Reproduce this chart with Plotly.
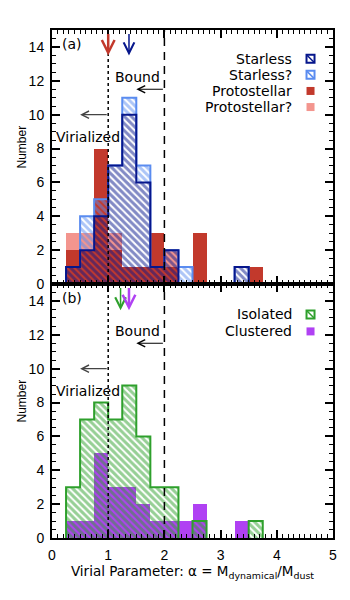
import plotly.graph_objects as go
from plotly.subplots import make_subplots

# ---------------- data ----------------
bin_width = 0.25
bin_lefts = [0.25, 0.5, 0.75, 1.0, 1.25, 1.5, 1.75, 2.0, 2.25, 2.5, 2.75, 3.0, 3.25, 3.5]
starless = [1, 2, 4, 7, 10, 6, 1, 2, 0, 0, 0, 0, 1, 0]
starless_q = [0, 2, 1, 0, 1, 1, 0, 0, 1, 0, 0, 0, 0, 0]
protostellar = [2, 2, 8, 2, 1, 1, 3, 1, 0, 3, 0, 0, 0, 1]
protostellar_q = [1, 1, 0, 1, 0, 0, 0, 1, 0, 0, 0, 0, 0, 0]
isolated = [3, 7, 8, 7, 9, 6, 3, 3, 0, 1, 0, 0, 0, 1]
clustered = [1, 1, 5, 3, 3, 2, 1, 1, 1, 2, 0, 0, 1, 0]

median_top = {"Protostellar": 1.0, "Starless": 1.37}
median_bot = {"Isolated": 1.22, "Clustered": 1.37}

x_ticks = [0, 1, 2, 3, 4, 5]
y_ticks = [0, 2, 4, 6, 8, 10, 12, 14]
alpha_vir = 1.0
alpha_bound = 2.0

NAVY = "#06168c"
LBLUE = "#5a8cf0"
RED = "#c2392c"
PINK = "#f3958e"
GREEN = "#2ea02c"
PURPLE = "#b041f3"
FONT = "DejaVu Sans"
TFONT = "Liberation Sans"

centers = [l + bin_width / 2 for l in bin_lefts]


def step_outline(counts):
    xs, ys = [], []
    in_run = False
    prev_r = None
    for l, c in zip(bin_lefts, counts):
        r = l + bin_width
        if c > 0:
            if not in_run:
                xs.append(l); ys.append(0)
                in_run = True
            xs += [l, r]; ys += [c, c]
            prev_r = r
        else:
            if in_run:
                xs += [prev_r, None]; ys += [0, None]
                in_run = False
    if in_run:
        xs.append(prev_r); ys.append(0)
    return xs, ys


def hatch(color):
    return dict(color="rgba(0,0,0,0)", line=dict(width=0),
                pattern=dict(shape="\\", fgcolor=color, bgcolor="rgba(0,0,0,0)",
                             size=5, solidity=0.6, fillmode="overlay"))


fig = make_subplots(rows=2, cols=1, shared_xaxes=True, vertical_spacing=0)

# ---- top panel ----
fig.add_trace(go.Bar(x=centers, y=protostellar, width=bin_width,
                     marker=dict(color=RED, line=dict(width=0))), 1, 1)
fig.add_trace(go.Bar(x=centers, y=protostellar_q, base=protostellar, width=bin_width,
                     marker=dict(color=PINK, line=dict(width=0))), 1, 1)
fig.add_trace(go.Bar(x=centers, y=starless_q, base=starless, width=bin_width,
                     marker=hatch(LBLUE)), 1, 1)
fig.add_trace(go.Bar(x=centers, y=starless, width=bin_width,
                     marker=hatch(NAVY)), 1, 1)
tot = [a + b for a, b in zip(starless, starless_q)]
xs, ys = step_outline(tot)
fig.add_trace(go.Scatter(x=xs, y=ys, mode="lines", line=dict(color=LBLUE, width=2),
                         connectgaps=False), 1, 1)
xs, ys = step_outline(starless)
fig.add_trace(go.Scatter(x=xs, y=ys, mode="lines", line=dict(color=NAVY, width=2),
                         connectgaps=False), 1, 1)

# ---- bottom panel ----
fig.add_trace(go.Bar(x=centers, y=clustered, width=bin_width,
                     marker=dict(color=PURPLE, line=dict(width=0))), 2, 1)
fig.add_trace(go.Bar(x=centers, y=isolated, width=bin_width,
                     marker=hatch(GREEN)), 2, 1)
xs, ys = step_outline(isolated)
fig.add_trace(go.Scatter(x=xs, y=ys, mode="lines", line=dict(color=GREEN, width=2),
                         connectgaps=False), 2, 1)

# ---- legends (text + symbols) ----
leg_top = [("Starless", NAVY, True), ("Starless?", LBLUE, True),
           ("Protostellar", RED, False), ("Protostellar?", PINK, False)]
leg_bot = [("Isolated", GREEN, True), ("Clustered", PURPLE, False)]
leg_y_top = [13.3, 12.35, 11.4, 10.45]
leg_y_bot = [13.2, 12.2]
leg_xm = 4.6
leg_xt = 4.31

annotations = []


def add_legend(items, ys_, row, xr, yr):
    for (lab, col, hatched), yy in zip(items, ys_):
        if hatched:
            fig.add_trace(go.Scatter(x=[leg_xm], y=[yy], mode="markers",
                                     marker=dict(symbol="square-open", size=8,
                                                 color=col, line=dict(width=2, color=col))), row, 1)
            fig.add_trace(go.Scatter(x=[leg_xm], y=[yy], mode="markers",
                                     marker=dict(symbol="line-nw", size=7,
                                                 color=col, line=dict(width=1.5, color=col))), row, 1)
        else:
            fig.add_trace(go.Scatter(x=[leg_xm], y=[yy], mode="markers",
                                     marker=dict(symbol="square", size=8, color=col,
                                                 line=dict(width=0))), row, 1)
        annotations.append(dict(x=leg_xt, y=yy, xref=xr, yref=yr, text=lab, showarrow=False,
                                xanchor="right", yanchor="middle",
                                font=dict(family=FONT, size=14, color="black")))


add_legend(leg_top, leg_y_top, 1, "x", "y")
add_legend(leg_bot, leg_y_bot, 2, "x2", "y2")

# ---- reference lines, arrows, labels ----
shapes = []
for xr, yr in (("x", "y"), ("x2", "y2")):
    shapes.append(dict(type="line", xref=xr, yref=yr, x0=alpha_vir, x1=alpha_vir, y0=0, y1=15,
                       line=dict(color="black", width=1.5, dash="dot"), layer="above"))
    shapes.append(dict(type="line", xref=xr, yref=yr, x0=alpha_bound, x1=alpha_bound, y0=0, y1=15,
                       line=dict(color="black", width=1.5, dash="8px,6px"), layer="above"))
    annotations.append(dict(x=1.5, y=11.5, ax=alpha_bound, ay=11.5, xref=xr, yref=yr,
                            axref=xr, ayref=yr, text="", showarrow=True, arrowhead=5,
                            arrowsize=1.2, arrowwidth=1.2, arrowcolor="black"))
    annotations.append(dict(x=1.53, y=12.2, xref=xr, yref=yr, text="Bound", showarrow=False,
                            font=dict(family=FONT, size=14, color="black")))
    annotations.append(dict(x=0.5, y=10.0, ax=alpha_vir, ay=10.0, xref=xr, yref=yr,
                            axref=xr, ayref=yr, text="", showarrow=True, arrowhead=5,
                            arrowsize=1.2, arrowwidth=1.2, arrowcolor="#444444"))
    annotations.append(dict(x=0.64, y=8.7, xref=xr, yref=yr, text="Virialized", showarrow=False,
                            font=dict(family=FONT, size=14, color="black")))
    annotations.append(dict(x=-0.14, y=8.1, xref="paper", yref=yr, text="Number", showarrow=False,
                            textangle=-90, font=dict(family=TFONT, size=12, color="black")))

annotations.append(dict(x=0.36, y=14.2, xref="x", yref="y", text="(a)", showarrow=False,
                        font=dict(family=FONT, size=14, color="black")))
annotations.append(dict(x=0.36, y=14.2, xref="x2", yref="y2", text="(b)", showarrow=False,
                        font=dict(family=FONT, size=14, color="black")))

for (name, val), col, w in zip(median_top.items(), [RED, NAVY], [2.5, 1.5]):
    annotations.append(dict(x=val, y=13.5, ax=val, ay=14.85, xref="x", yref="y",
                            axref="x", ayref="y", text="", showarrow=True, arrowhead=5,
                            arrowsize=1.0 if w > 2 else 1.4, arrowwidth=w, arrowcolor=col))
for (name, val), col, w in zip(median_bot.items(), [GREEN, PURPLE], [1.5, 2.5]):
    annotations.append(dict(x=val, y=13.45, ax=val, ay=14.85, xref="x2", yref="y2",
                            axref="x2", ayref="y2", text="", showarrow=True, arrowhead=5,
                            arrowsize=1.0 if w > 2 else 1.4, arrowwidth=w, arrowcolor=col))

axis_common = dict(showline=True, linecolor="black", linewidth=2, mirror="ticks",
                   ticks="inside", tickcolor="black", tickwidth=1.5, ticklen=8,
                   showgrid=False, zeroline=False,
                   tickfont=dict(family=TFONT, size=14, color="black"))

fig.update_xaxes(range=[0, 5], tickvals=x_ticks, minor=dict(dtick=0.1, ticklen=4, tickwidth=1,
                 tickcolor="black", ticks="inside"), **axis_common)
fig.update_xaxes(showticklabels=False, row=1, col=1)
fig.update_xaxes(title=dict(text="Virial Parameter: \u03b1 = M<sub>dynamical</sub>/M<sub>dust</sub>",
                            font=dict(family=FONT, size=13.5, color="black"), standoff=2),
                 ticklabelstandoff=3, row=2, col=1)
fig.update_yaxes(range=[0, 15], tickvals=y_ticks, minor=dict(dtick=0.5, ticklen=4, tickwidth=1,
                 tickcolor="black", ticks="inside"), ticklabelstandoff=3, **axis_common)

fig.update_layout(width=350, height=600, margin=dict(l=52, r=17, t=30, b=62),
                  barmode="overlay", bargap=0, showlegend=False, hovermode=False,
                  plot_bgcolor="white", paper_bgcolor="white",
                  shapes=shapes, annotations=annotations)

fig.write_html("out.html", config={"displayModeBar": False},
               post_script="document.body.style.margin='0';document.body.style.overflow='hidden';")
